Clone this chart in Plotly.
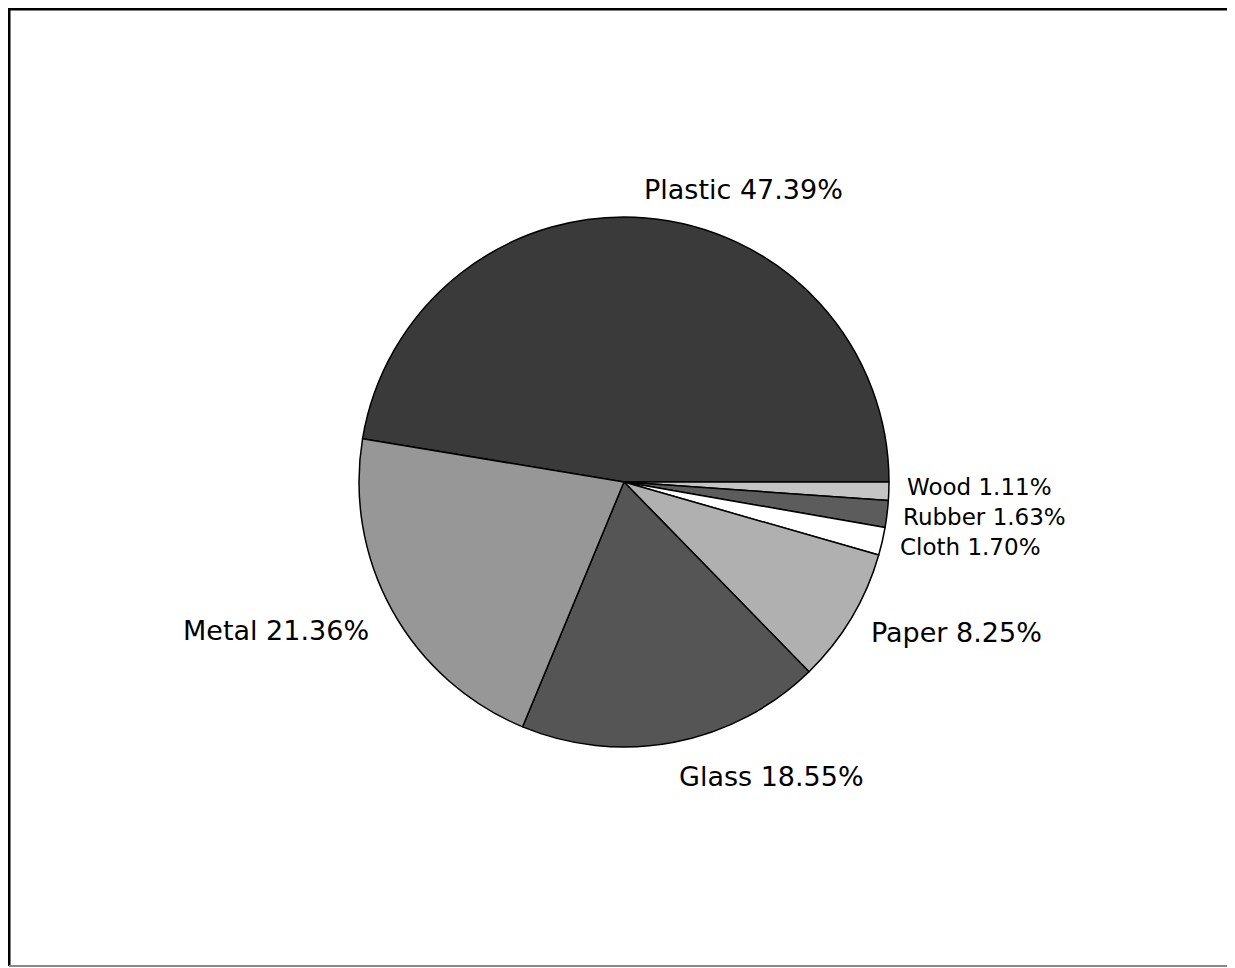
import plotly.graph_objects as go

categories = ["Plastic", "Wood", "Rubber", "Cloth", "Paper", "Glass", "Metal"]
shares = [47.39, 1.11, 1.63, 1.70, 8.25, 18.55, 21.36]
slice_colors = ["#3a3a3a", "#c4c4c4", "#5c5c5c", "#ffffff", "#b0b0b0", "#555555", "#979797"]

# label placement (pixel position of label anchor in figure space, anchor side, font size)
label_pos = {
    "Plastic": (635, 182, "left", 27),
    "Wood": (898, 479, "left", 23),
    "Rubber": (894, 509, "left", 23),
    "Cloth": (891, 539, "left", 23),
    "Paper": (862, 624, "left", 27),
    "Glass": (670, 768, "left", 27),
    "Metal": (362, 622, "right", 27),
}

W, H = 1235, 968
cx, cy, r = 616, 474, 265

fig = go.Figure(go.Pie(
    labels=categories,
    values=shares,
    sort=False,
    direction="clockwise",
    rotation=279.4,
    marker=dict(colors=slice_colors, line=dict(color="black", width=1.5)),
    textinfo="none",
    hoverinfo="label+percent",
    showlegend=False,
    automargin=False,
    domain=dict(x=[(cx - r) / W, (cx + r) / W], y=[(H - cy - r) / H, (H - cy + r) / H]),
))

annotations = []
for name, val in zip(categories, shares):
    px, py, side, fs = label_pos[name]
    annotations.append(dict(
        x=px / W, y=(H - py) / H, xref="paper", yref="paper",
        text=f"{name} {val:.2f}%", showarrow=False,
        xanchor=side, yanchor="middle", borderpad=0,
        font=dict(family="DejaVu Sans, Verdana, sans-serif", size=fs, color="black"),
    ))

fig.update_layout(
    width=W, height=H,
    margin=dict(l=0, r=0, t=0, b=0),
    paper_bgcolor="white",
    plot_bgcolor="white",
    annotations=annotations,
    shapes=[
        dict(type="line", xref="paper", yref="paper", x0=1 / W, x1=1.0, y0=(H - 1) / H, y1=(H - 1) / H,
             line=dict(color="black", width=3)),
        dict(type="line", xref="paper", yref="paper", x0=1 / W, x1=1 / W, y0=(H - 0) / H, y1=(H - 958) / H,
             line=dict(color="black", width=3)),
        dict(type="line", xref="paper", yref="paper", x0=1 / W, x1=1.0, y0=(H - 958) / H, y1=(H - 958) / H,
             line=dict(color="#888888", width=2)),
    ],
)

fig.write_html("out.html")
